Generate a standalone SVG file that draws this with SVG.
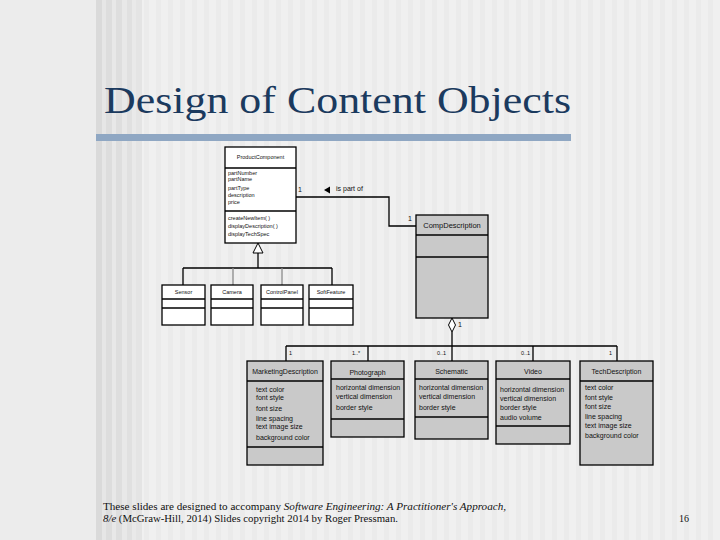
<svg xmlns="http://www.w3.org/2000/svg" width="720" height="540" viewBox="0 0 720 540">
<defs>
<pattern id="stripes" x="0" y="0" width="12" height="10" patternUnits="userSpaceOnUse">
<rect width="12" height="10" fill="#f0f0f0"/>
<rect x="0" width="5" height="10" fill="#ebebeb"/>
</pattern>
<style>
.box{stroke:#000;stroke-width:1.3}
.w{fill:#fff}
.g{fill:#c9c9c9}
.ln{stroke:#000;stroke-width:1.3;fill:none}
.t{font-family:"Liberation Sans",Arial,sans-serif;fill:#111}
.s{font-size:5.5px}
.m{font-size:7px}
.n{font-size:7.5px}
.ser{font-family:"Liberation Serif","DejaVu Serif",serif;fill:#111;font-size:10px}
</style>
</defs>
<rect width="720" height="540" fill="#ececec"/>
<rect x="96" y="0" width="624" height="540" fill="url(#stripes)"/>
<g id="darkstripes">
<rect x="96" y="0" width="6" height="540" fill="#dadada"/>
<rect x="102" y="0" width="4" height="540" fill="#e6e6e6"/>
<rect x="106" y="0" width="6" height="540" fill="#dddddd"/>
<rect x="112" y="0" width="4" height="540" fill="#e8e8e8"/>
<rect x="116" y="0" width="6" height="540" fill="#dedede"/>
<rect x="122" y="0" width="5" height="540" fill="#e8e8e8"/>
<rect x="127" y="0" width="5" height="540" fill="#e0e0e0"/>
<rect x="132" y="0" width="4" height="540" fill="#e9e9e9"/>
<rect x="136" y="0" width="6" height="540" fill="#e4e4e4"/>
</g>
<g id="title">
<text x="104" y="113" font-family="'Liberation Serif','DejaVu Serif',serif" font-size="38" fill="#1b3a5e" textLength="467" lengthAdjust="spacingAndGlyphs">Design of Content Objects</text>
<rect x="96" y="134" width="475" height="7" fill="#8fa7c3"/>
</g>

<g id="connectors">
<polyline class="ln" points="296,197 389,197 389,226 416,226"/>
<polygon points="324,190 330,186.5 330,193.5" fill="#000"/>
<polyline class="ln" points="258,253 258,268"/>
<line class="ln" x1="183" y1="268" x2="332" y2="268"/>
<line class="ln" x1="183" y1="268" x2="183" y2="285"/>
<line x1="233" y1="268" x2="233" y2="285" stroke="#8a8a8a" stroke-width="1.3"/>
<line x1="282" y1="268" x2="282" y2="285" stroke="#8a8a8a" stroke-width="1.3"/>
<line class="ln" x1="332" y1="268" x2="332" y2="285"/>
<polygon points="258,243 263,253 253,253" fill="#fff" stroke="#000" stroke-width="1"/>
<line class="ln" x1="452" y1="332" x2="452" y2="346"/>
<polygon points="452,318 455.5,325 452,332 448.5,325" fill="#fff" stroke="#000" stroke-width="1"/>
<line class="ln" x1="286" y1="346" x2="617" y2="346"/>
<line class="ln" x1="286" y1="346" x2="286" y2="361"/>
<line class="ln" x1="368" y1="346" x2="368" y2="361"/>
<line class="ln" x1="452" y1="346" x2="452" y2="361"/>
<line class="ln" x1="533" y1="346" x2="533" y2="361"/>
<line class="ln" x1="617" y1="346" x2="617" y2="361"/>
<text class="t m" x="298" y="192">1</text>
<text class="t m" x="336" y="191">is part of</text>
<text class="t m" x="408" y="221">1</text>
<text class="t m" x="458" y="327">1</text>
<text class="t s" x="289" y="355">1</text>
<text class="t s" x="352" y="355">1..*</text>
<text class="t s" x="437" y="355">0..1</text>
<text class="t s" x="521" y="355">0..1</text>
<text class="t s" x="609" y="355">1</text>
</g>

<g id="ProductComponent">
<rect class="box w" x="225" y="147" width="71" height="96"/>
<line class="ln" x1="225" y1="168" x2="296" y2="168"/>
<line class="ln" x1="225" y1="211" x2="296" y2="211"/>
<text class="t s" x="260.5" y="159" text-anchor="middle">ProductComponent</text>
<text class="t s" x="228" y="175">partNumber</text>
<text class="t s" x="228" y="181">partName</text>
<text class="t s" x="228" y="190">partType</text>
<text class="t s" x="228" y="197">description</text>
<text class="t s" x="228" y="204">price</text>
<text class="t s" x="228" y="220">createNewItem( )</text>
<text class="t s" x="228" y="228">displayDescription( )</text>
<text class="t s" x="228" y="236">displayTechSpec</text>
</g>

<g id="Sensor">
<rect class="box w" x="162" y="285" width="43" height="40"/>
<line class="ln" x1="162" y1="299" x2="205" y2="299"/>
<line class="ln" x1="162" y1="308" x2="205" y2="308"/>
<text class="t s" x="183.5" y="294" text-anchor="middle">Sensor</text>
</g>
<g id="Camera">
<rect class="box w" x="211" y="285" width="42" height="40"/>
<line class="ln" x1="211" y1="299" x2="253" y2="299"/>
<line class="ln" x1="211" y1="308" x2="253" y2="308"/>
<text class="t s" x="232" y="294" text-anchor="middle">Camera</text>
</g>
<g id="ControlPanel">
<rect class="box w" x="261" y="285" width="42" height="40"/>
<line class="ln" x1="261" y1="299" x2="303" y2="299"/>
<line class="ln" x1="261" y1="308" x2="303" y2="308"/>
<text class="t s" x="282" y="294" text-anchor="middle">ControlPanel</text>
</g>
<g id="SoftFeature">
<rect class="box w" x="309" y="285" width="44" height="40"/>
<line class="ln" x1="309" y1="299" x2="353" y2="299"/>
<line class="ln" x1="309" y1="308" x2="353" y2="308"/>
<text class="t s" x="331" y="294" text-anchor="middle">SoftFeature</text>
</g>

<g id="CompDescription">
<rect class="box g" x="416" y="215" width="72" height="103"/>
<line class="ln" x1="416" y1="235" x2="488" y2="235"/>
<line class="ln" x1="416" y1="257" x2="488" y2="257"/>
<text class="t n" x="452" y="228" text-anchor="middle">CompDescription</text>
</g>

<g id="MarketingDescription">
<rect class="box g" x="247" y="361" width="76" height="104"/>
<line class="ln" x1="247" y1="381" x2="323" y2="381"/>
<line class="ln" x1="247" y1="447" x2="323" y2="447"/>
<text class="t m" x="285" y="374" text-anchor="middle">MarketingDescription</text>
<text class="t m" x="256" y="392">text color</text>
<text class="t m" x="256" y="400">font style</text>
<text class="t m" x="256" y="411">font size</text>
<text class="t m" x="256" y="421">line spacing</text>
<text class="t m" x="256" y="429">text image size</text>
<text class="t m" x="256" y="440">background color</text>
</g>
<g id="Photograph">
<rect class="box g" x="331" y="361" width="73" height="76"/>
<line class="ln" x1="331" y1="379" x2="404" y2="379"/>
<line class="ln" x1="331" y1="419" x2="404" y2="419"/>
<text class="t m" x="367.5" y="375" text-anchor="middle">Photograph</text>
<text class="t m" x="336" y="390">horizontal dimension</text>
<text class="t m" x="336" y="399">vertical dimension</text>
<text class="t m" x="336" y="410">border style</text>
</g>
<g id="Schematic">
<rect class="box g" x="415" y="361" width="73" height="78"/>
<line class="ln" x1="415" y1="379" x2="488" y2="379"/>
<line class="ln" x1="415" y1="417" x2="488" y2="417"/>
<text class="t m" x="451.5" y="374" text-anchor="middle">Schematic</text>
<text class="t m" x="419" y="390">horizontal dimension</text>
<text class="t m" x="419" y="399">vertical dimension</text>
<text class="t m" x="419" y="410">border style</text>
</g>
<g id="Video">
<rect class="box g" x="496" y="361" width="74" height="83"/>
<line class="ln" x1="496" y1="379" x2="570" y2="379"/>
<line class="ln" x1="496" y1="426" x2="570" y2="426"/>
<text class="t m" x="533" y="374" text-anchor="middle">Video</text>
<text class="t m" x="500" y="392">horizontal dimension</text>
<text class="t m" x="500" y="401">vertical dimension</text>
<text class="t m" x="500" y="410">border style</text>
<text class="t m" x="500" y="420">audio volume</text>
</g>
<g id="TechDescription">
<rect class="box g" x="580" y="361" width="73" height="104"/>
<line class="ln" x1="580" y1="381" x2="653" y2="381"/>
<text class="t m" x="616.5" y="374" text-anchor="middle">TechDescription</text>
<text class="t m" x="585" y="390">text color</text>
<text class="t m" x="585" y="400">font style</text>
<text class="t m" x="585" y="409">font size</text>
<text class="t m" x="585" y="419">line spacing</text>
<text class="t m" x="585" y="428">text image size</text>
<text class="t m" x="585" y="438">background color</text>
</g>

<g id="footer">
<text class="ser" x="103" y="510" textLength="403" lengthAdjust="spacingAndGlyphs">These slides are designed to accompany <tspan font-style="italic">Software Engineering: A Practitioner's Approach,</tspan></text>
<text class="ser" x="103" y="522" textLength="295" lengthAdjust="spacingAndGlyphs"><tspan font-style="italic">8/e</tspan> (McGraw-Hill, 2014) Slides copyright 2014 by Roger Pressman.</text>
<text class="ser" x="679" y="522">16</text>
</g>
</svg>
